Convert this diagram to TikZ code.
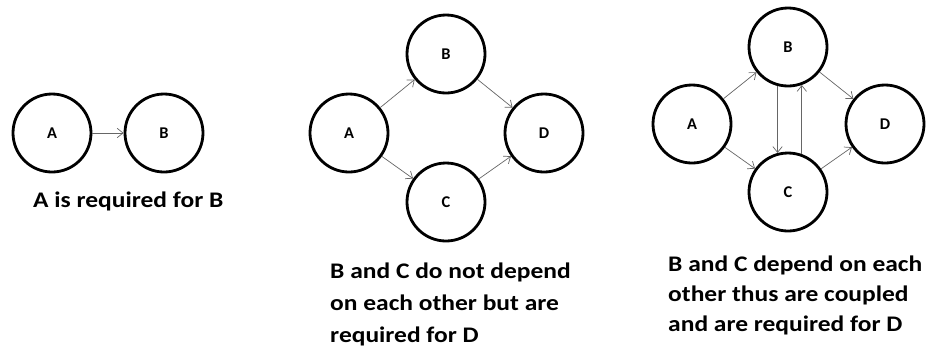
\documentclass[tikz,border=0pt]{standalone}
\usepackage{fontspec}
\setmainfont{Carlito}
\newfontfamily\capfont[FakeStretch=1.145]{Carlito}
\usetikzlibrary{arrows.meta}

\begin{document}
\begin{tikzpicture}[x=0.03cm, y=-0.03cm,
        state/.style={draw, circle, line width=2.4pt, minimum size=2.34cm, inner sep=0pt, font=\fontsize{14}{16}\selectfont\bfseries},
        dep/.style={draw=black!60, line width=0.6pt, -{Straight Barb[length=5pt, width=8pt]}},
        caption/.style={anchor=north west, align=left, inner sep=0pt, font=\capfont\fontsize{19}{27}\selectfont\bfseries}]
    \useasboundingbox (0,0) rectangle (927,351);

    % A requires B
    \node[state] (A1) at (52,133) {A};
    \node[state] (B1) at (164,133) {B};
    \draw[dep] (A1) -- (B1);
    \node[caption] (T1) at (33,192) {A is required for B};

    % B and C independent
    \node[state] (A2) at (349,133) {A};
    \node[state] (B2) at (446,54) {B};
    \node[state] (C2) at (446,202) {C};
    \node[state] (D2) at (544,133) {D};
    \draw[dep] (A2) -- (B2);
    \draw[dep] (A2) -- (C2);
    \draw[dep] (B2) -- (D2);
    \draw[dep] (C2) -- (D2);
    \node[caption] (T2) at (330,263) {B and C do not depend\\on each other but are\\required for D};

    % B and C coupled
    \node[state] (A3) at (692,124) {A};
    \node[state] (B3) at (788,47) {B};
    \node[state] (C3) at (788,192) {C};
    \node[state] (D3) at (885,124) {D};
    \draw[dep] (A3) -- (B3);
    \draw[dep] (A3) -- (C3);
    \draw[dep] (B3) -- (D3);
    \draw[dep] (C3) -- (D3);
    \draw[dep] (B3.-105) -- (C3.105);
    \draw[dep] (C3.70) -- (B3.-70);
    \node[caption, font=\capfont\fontsize{19}{25.5}\selectfont\bfseries] (T3) at (668,256) {B and C depend on each\\other thus are coupled\\and are required for D};
\end{tikzpicture}
\end{document}
